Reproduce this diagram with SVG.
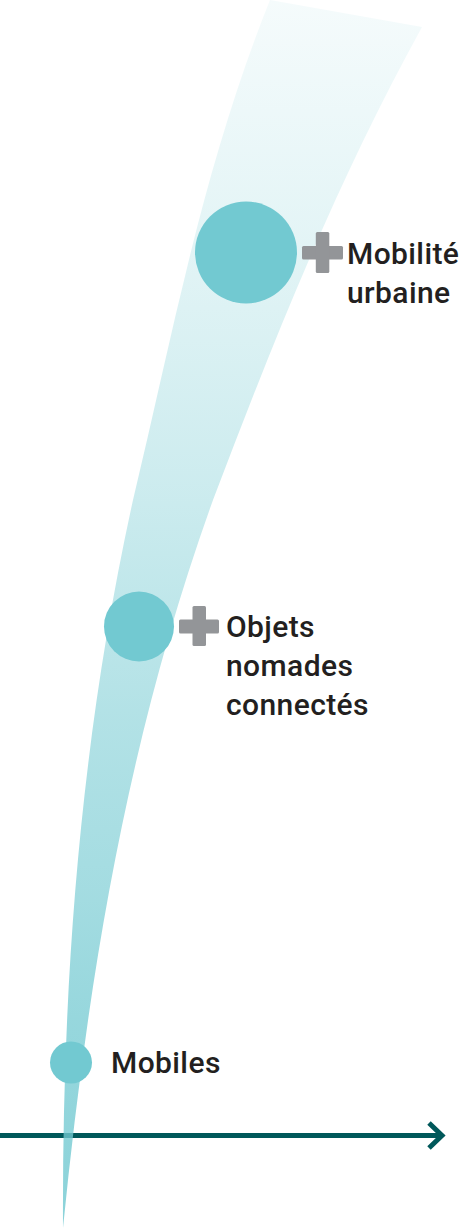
<svg xmlns="http://www.w3.org/2000/svg" width="459" height="1229" viewBox="0 0 459 1229">
  <style>
    .node circle { fill: #72c9d1; }
    .plus { fill: #939598; }
    .label { font-family: Roboto, "Liberation Sans", sans-serif; font-weight: 500; font-size: 30px; letter-spacing: 0.4px; fill: #231f20; }
  </style>
  <defs>
    <linearGradient id="bandGrad" gradientUnits="userSpaceOnUse" x1="0" y1="0" x2="0" y2="1228">
      <stop offset="0" stop-color="#72c9d1" stop-opacity="0.07"/>
      <stop offset="0.2" stop-color="#72c9d1" stop-opacity="0.2"/>
      <stop offset="0.4" stop-color="#72c9d1" stop-opacity="0.36"/>
      <stop offset="0.58" stop-color="#72c9d1" stop-opacity="0.54"/>
      <stop offset="0.73" stop-color="#72c9d1" stop-opacity="0.65"/>
      <stop offset="0.83" stop-color="#72c9d1" stop-opacity="0.74"/>
      <stop offset="1" stop-color="#72c9d1" stop-opacity="0.82"/>
    </linearGradient>
  </defs>

  <g id="connectors">
    <line x1="0" y1="1135.5" x2="442" y2="1135.5" stroke="#00585a" stroke-width="5"/>
    <polyline points="429,1123 442,1135.5 429,1148" fill="none" stroke="#00585a" stroke-width="5"/>
  </g>

  <path id="band" fill="url(#bandGrad)" d="M270,0 L422,27 C335,185 273,342 213,500 C125.5,743 87.3,985 63,1228 C62,985 79.5,743 133,500 C173,333 203,167 270,0 Z"/>

  <g id="node-mobilite" class="node">
    <circle cx="246" cy="252.5" r="51"/>
    <rect class="plus" x="302" y="246" width="41" height="13.5" rx="1.5"/>
    <rect class="plus" x="315.8" y="232" width="13.5" height="41" rx="1.5"/>
    <text class="label" x="347" y="264">Mobilité</text>
    <text class="label" x="347" y="302.5">urbaine</text>
  </g>

  <g id="node-objets" class="node">
    <circle cx="139" cy="626.5" r="35"/>
    <rect class="plus" x="179" y="619.5" width="40" height="14" rx="1.5"/>
    <rect class="plus" x="192.5" y="606" width="13.5" height="40" rx="1.5"/>
    <text class="label" x="226" y="637">Objets</text>
    <text class="label" x="226" y="676">nomades</text>
    <text class="label" x="226" y="715">connectés</text>
  </g>

  <g id="node-mobiles" class="node">
    <circle cx="71" cy="1062.5" r="21"/>
    <text class="label" x="111" y="1073">Mobiles</text>
  </g>
</svg>
